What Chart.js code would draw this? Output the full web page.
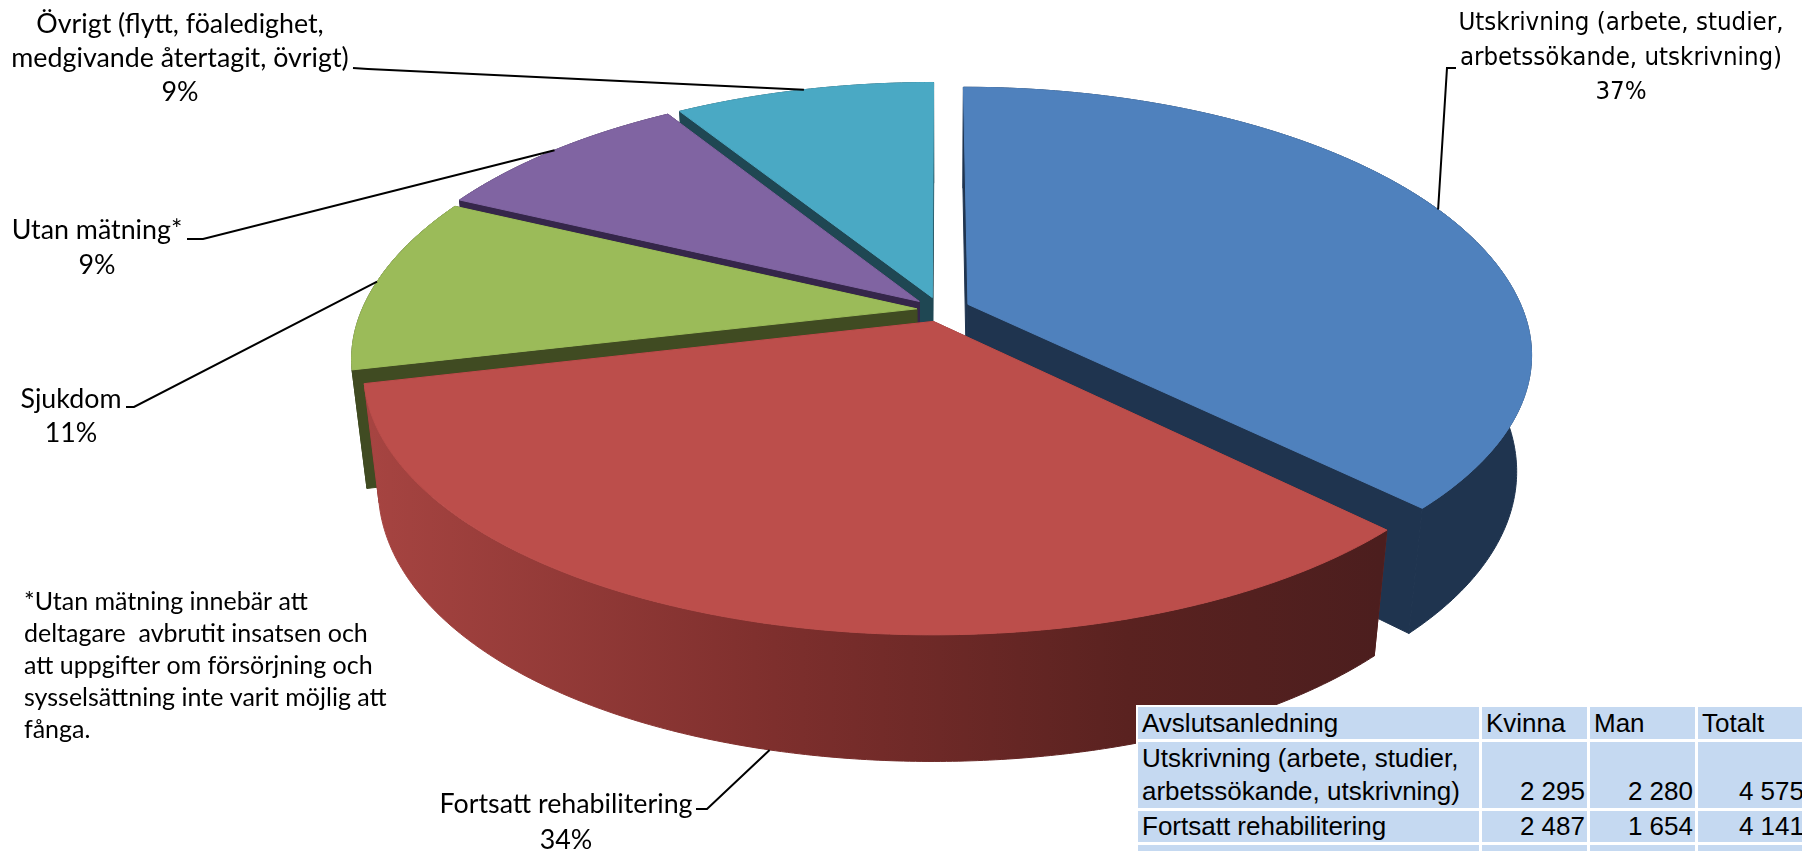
<!DOCTYPE html>
<html><head><meta charset="utf-8">
<style>
html,body{margin:0;padding:0;background:#fff;width:1802px;height:851px;overflow:hidden}
#wrap{position:relative;width:1802px;height:851px}
canvas{position:absolute;left:0;top:0}
#tbl{position:absolute;left:1136px;top:705px;width:666px;height:146px;overflow:hidden;background:#fff}
#tbl table{position:absolute;left:-1px;top:-1px;border-collapse:separate;border-spacing:3px 3px;table-layout:fixed;width:674px;font:26px "Liberation Sans",Arial,sans-serif;color:#000}
#tbl td{background:#C5D9F1;padding:0 2px 0 4px;vertical-align:bottom;white-space:pre;overflow:hidden}
#tbl tr.r0 td{line-height:32px}#tbl tr.r1 td{line-height:33px}#tbl tr.r2 td{line-height:31px}#tbl tr.r3 td{line-height:39px}
#tbl td.n{text-align:right}
</style></head><body>
<div id="wrap"><canvas id="c" width="1802" height="851"></canvas><div id="tbl"></div></div>
<script src="https://cdn.jsdelivr.net/npm/chart.js@4"></script>
<script>
const categories = ["Utskrivning (arbete, studier, arbetssökande, utskrivning)","Fortsatt rehabilitering","Sjukdom","Utan mätning*","Övrigt (flytt, föaledighet, medgivande återtagit, övrigt)"];
const percentages = [37.1,34.3,10.6,9.0,9.0];
const sliceColors = ["#4F81BD","#BC4E4B","#9BBB59","#8064A2","#4AA9C4"];
const wallColors = ["#1F344F","#7A2E2C","#404B22","#35264A","#1F4753"];
const explode = [0.055,0.045,0.042,0.05,0.05];
const tableHead = ["Avslutsanledning","Kvinna","Man","Totalt"];
const tableRows = [
 ["Utskrivning (arbete, studier,\narbetssökande, utskrivning)","2 295","2 280","4 575"],
 ["Fortsatt rehabilitering","2 487","1 654","4 141"],
 ["Sjukdom","","",""]
];
const noteLines = ["*Utan mätning innebär att","deltagare  avbrutit insatsen och","att uppgifter om försörjning och","sysselsättning inte varit möjlig att","fånga."];

// label layout
const labelLayout = [
 {lines:["Utskrivning (arbete, studier,","arbetssökande, utskrivning)","37%"],cx:1621,ys:[24,59,93],bend:[[1456,68],[1447,68]],z:0,font:'24.5px "DejaVu Sans"',sx:.94},
 {lines:["Fortsatt rehabilitering","34%"],cx:566,ys:[804,840],bend:[[696,809],[707,809]],z:1},
 {lines:["Sjukdom","11%"],cx:71,ys:[399,433],bend:[[126,407],[134,407]],z:0},
 {lines:["Utan mätning*","9%"],cx:97,ys:[230,265],bend:[[187,239],[203,239]],z:0},
 {lines:["Övrigt (flytt, föaledighet,","medgivande återtagit, övrigt)","9%"],cx:180,ys:[24,58,92],bend:[[353,68],[368,69]],z:0}
];
const P = {ox:940,oy:310,a:555,b:261,c:118,k:0.193,m:0.025,h:0.04,g:0.035};
function proj(U,V,Z){
  const w=1-P.k*V+P.m*Z;
  const f=V>0?1-P.h*V*V*V*V:1;
  const fx=V>0?1-P.g*V*V:1;
  return [P.ox+f*fx*P.a*U/w,P.oy+f*(P.b*V+P.c*Z)/w];
}

function sliceGeom(el,i){
  const s=el.startAngle,e=el.endAngle,mid=(s+e)/2,d=explode[i];
  const dU=d*Math.cos(mid),dV=d*Math.sin(mid);
  const n=Math.max(8,Math.ceil((e-s)/0.01));
  const at=(t,Z)=>proj(dU+Math.cos(t),dV+Math.sin(t),Z);
  const arc=Z=>{const r=[];for(let j=0;j<=n;j++)r.push(at(s+(e-s)*j/n,Z));return r;};
  return {s,e,mid,dU,dV,arc,at,apex:Z=>proj(dU,dV,Z)};
}
function poly(ctx,pts,fill){ctx.beginPath();pts.forEach((p,j)=>j?ctx.lineTo(p[0],p[1]):ctx.moveTo(p[0],p[1]));ctx.closePath();ctx.fillStyle=fill;ctx.fill();ctx.strokeStyle=fill;ctx.lineWidth=1;ctx.stroke();}

const pie3d = {
  id:'pie3d',
  beforeDatasetDraw(chart,args){
    const ctx=chart.ctx, meta=args.meta;
    const order=[4,3,2,0,1];
    ctx.save();
    order.forEach(i=>{
      const g=sliceGeom(meta.data[i],i);
      const t0=g.arc(0),t1=g.arc(1);
      const A0=g.apex(0),A1=g.apex(1);
      const wall=wallColors[i];
      poly(ctx,[A0,t0[0],t1[0],A1],wall);
      poly(ctx,[A0,t0[t0.length-1],t1[t1.length-1],A1],wall);
      let fill=wall;
      if(i===1){const gr=ctx.createLinearGradient(370,0,1380,0);
        gr.addColorStop(0,"#A64441");gr.addColorStop(.4,"#7E2F2D");gr.addColorStop(.75,"#5A2220");gr.addColorStop(1,"#4C1E1E");fill=gr;}
      poly(ctx,t0.concat(t1.slice().reverse()),fill);
      poly(ctx,[A0].concat(t0),meta.data[i].options.backgroundColor);
    });
    ctx.restore();
    return false;
  },
  afterDatasetsDraw(chart){
    const ctx=chart.ctx, meta=chart.getDatasetMeta(0);
    ctx.save();
    labelLayout.forEach((l,i)=>{
      const g=sliceGeom(meta.data[i],i);
      const end=g.at(g.mid,l.z);
      ctx.beginPath();ctx.moveTo(l.bend[0][0],l.bend[0][1]);ctx.lineTo(l.bend[1][0],l.bend[1][1]);ctx.lineTo(end[0],end[1]);
      ctx.strokeStyle="#000";ctx.lineWidth=2;ctx.stroke();
      ctx.fillStyle="#000";ctx.textAlign="center";ctx.textBaseline="middle";
      ctx.font=l.font||'26.8px Lato';
      l.lines.forEach((t,j)=>{
        ctx.save();ctx.translate(l.cx,l.ys[j]);if(l.sx)ctx.scale(l.sx,1);ctx.fillText(t,0,0);ctx.restore();
      });
    });
    ctx.textAlign="left";ctx.font='25px Lato';
    const ny=[602,634,666,698,730];
    noteLines.forEach((t,j)=>ctx.fillText(t,24,ny[j]));
    ctx.restore();
  }
};

new Chart(document.getElementById('c'),{
  type:'pie',
  data:{labels:categories,datasets:[{data:percentages,backgroundColor:sliceColors,borderWidth:0}]},
  options:{responsive:false,animation:false,plugins:{legend:{display:false},tooltip:{enabled:false}}},
  plugins:[pie3d]
});

const widths=[341,105,105,108];
let h='<table><colgroup>'+widths.map(w=>`<col style="width:${w}px">`).join('')+'</colgroup>';
h+='<tr class="r0">'+tableHead.map(t=>`<td>${t}</td>`).join('')+'</tr>';
tableRows.forEach((r,k)=>{h+=`<tr class="r${k+1}">`+r.map((t,j)=>`<td class="${j?'n':''}">${t}</td>`).join('')+'</tr>';});
document.getElementById('tbl').innerHTML=h+'</table>';
</script>
</body></html>
